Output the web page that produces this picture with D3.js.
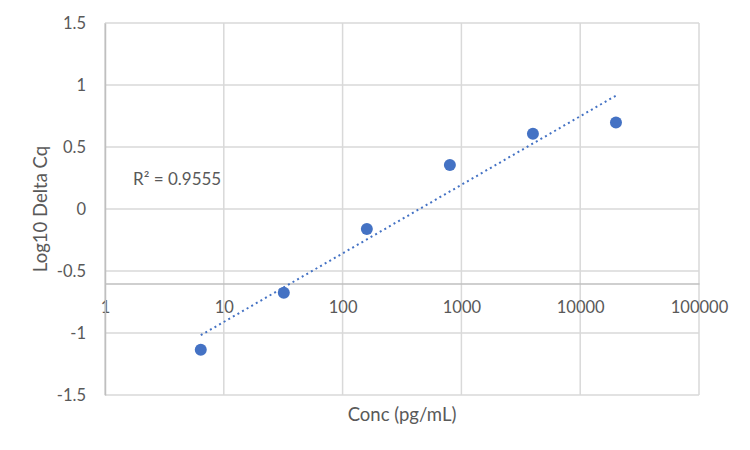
<!DOCTYPE html>
<html lang="en">
<head>
<meta charset="utf-8">
<script src="https://d3js.org/d3.v7.min.js"></script>
<style type="text/css">
body { margin: 0; background: #fff; }
svg text { font-family: Lato, "Open Sans", sans-serif; fill: #595959; }
</style>
</head>
<body>
<div id="chart"></div>
<script type="text/javascript">

// data
var conc = [6.4, 32, 160, 800, 4000, 20000];
var logDeltaCq = [-1.135, -0.675, -0.161, 0.355, 0.607, 0.698];
var xTicks = [1, 10, 100, 1000, 10000, 100000];
var yTicks = [-1.5, -1, -0.5, 0, 0.5, 1, 1.5];
var rSquaredLabel = "R² = 0.9555";

(function() {
  var width = 750, height = 450;
  var mLeft = 105, mRight = 699, mTop = 23, mBottom = 395;

  var svg = d3.select("#chart").append("svg")
    .attr("width", width)
    .attr("height", height);

  var x = d3.scaleLog().domain([1, 100000]).range([mLeft, mRight]);
  var y = d3.scaleLinear().domain([-1.5, 1.5]).range([mBottom, mTop]);

  // gridlines
  svg.append("g").selectAll("line")
    .data(yTicks).enter().append("line")
    .attr("x1", mLeft).attr("x2", mRight)
    .attr("y1", function(d) { return y(d); })
    .attr("y2", function(d) { return y(d); })
    .style("stroke", "#d9d9d9").style("stroke-width", 1.5);

  svg.append("g").selectAll("line")
    .data(xTicks).enter().append("line")
    .attr("y1", mTop).attr("y2", mBottom)
    .attr("x1", function(d) { return x(d); })
    .attr("x2", function(d) { return x(d); })
    .style("stroke", "#d9d9d9").style("stroke-width", 1.5);

  // x axis crosses at -0.6, y axis at 1
  var xAxis = d3.axisBottom(x).tickValues(xTicks).tickSize(0).tickPadding(18)
    .tickFormat(d3.format("d"));
  var gx = svg.append("g")
    .attr("transform", "translate(0," + y(-0.6) + ")")
    .call(xAxis);
  gx.select(".domain").style("stroke", "#bfbfbf").style("stroke-width", 1.5);

  var yAxis = d3.axisLeft(y).tickValues(yTicks).tickSize(0).tickPadding(19)
    .tickFormat(function(d) { return String(d); });
  var gy = svg.append("g")
    .attr("transform", "translate(" + x(1) + ",0)")
    .call(yAxis);
  gy.select(".domain").style("stroke", "#bfbfbf").style("stroke-width", 1.5);

  svg.selectAll(".tick text")
    .attr("fill", "#595959")
    .style("font-size", "16.5px")
    .style("font-family", "Lato, 'Open Sans', sans-serif");

  // logarithmic trendline (least squares on log10 of x)
  var lx = conc.map(function(d) { return Math.log10(d); });
  var mx = d3.mean(lx), my = d3.mean(logDeltaCq);
  var sxy = d3.sum(lx, function(d, i) { return (d - mx) * (logDeltaCq[i] - my); });
  var sxx = d3.sum(lx, function(d) { return (d - mx) * (d - mx); });
  var slope = sxy / sxx, icpt = my - slope * mx;

  svg.append("path")
    .datum(d3.extent(conc))
    .attr("d", d3.line()
      .x(function(d) { return x(d); })
      .y(function(d) { return y(icpt + slope * Math.log10(d)); }))
    .style("fill", "none")
    .style("stroke", "#4472c4")
    .style("stroke-width", 2)
    .style("stroke-dasharray", "2,3.3");

  // points
  svg.append("g").selectAll("circle")
    .data(conc).enter().append("circle")
    .attr("cx", function(d) { return x(d); })
    .attr("cy", function(d, i) { return y(logDeltaCq[i]); })
    .attr("r", 6)
    .style("fill", "#4472c4");

  // R² label
  svg.append("text")
    .attr("x", 133).attr("y", 185)
    .style("font-size", "17px")
    .text(rSquaredLabel);

  // axis titles
  svg.append("text")
    .attr("x", (mLeft + mRight) / 2).attr("y", 421)
    .attr("text-anchor", "middle")
    .style("font-size", "18.5px")
    .text("Conc (pg/mL)");

  svg.append("text")
    .attr("transform", "translate(47," + (mTop + mBottom) / 2 + ") rotate(-90)")
    .attr("text-anchor", "middle")
    .style("font-size", "18.5px")
    .text("Log10 Delta Cq");
})();

</script>
</body>
</html>
